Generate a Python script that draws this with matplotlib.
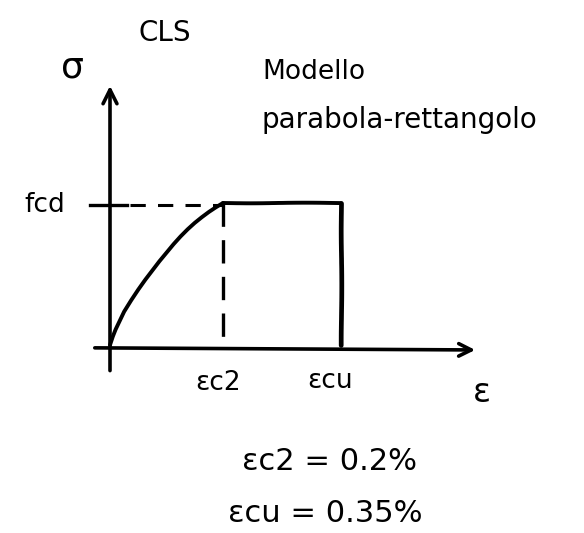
import numpy as np
import matplotlib
matplotlib.use("Agg")
import matplotlib.pyplot as plt

# Parabola-rectangle stress-strain model for concrete (CLS)
eps_c2 = 0.2      # strain at peak stress, %
eps_cu = 0.35     # ultimate strain, %
fcd = 1.0         # design strength (normalised)

# parabolic branch, read as points from 0 to eps_c2
eps_parab = [0.0, 0.005, 0.01, 0.025, 0.0375, 0.05, 0.0625, 0.075, 0.0875,
             0.10, 0.1125, 0.125, 0.1375, 0.15, 0.1625, 0.175, 0.1875, 0.20]
sig_parab = [0.0, 0.06, 0.11, 0.235, 0.315, 0.39, 0.46, 0.525, 0.59,
             0.65, 0.71, 0.765, 0.815, 0.86, 0.90, 0.937, 0.97, 1.00]

x_tick_labels = ["εc2", "εcu"]
eq_labels = ["εc2 = 0.2%", "εcu = 0.35%"]

W, H = 584, 533
fig = plt.figure(figsize=(W / 100, H / 100), dpi=100)
ax = fig.add_axes([0, 0, 1, 1])

# sketch-like strain axis: the two branches are drawn with their own spacing
knots_in = np.array([-1.0, 0.0, eps_c2, eps_cu, 2.0])
knots_out = np.array([-565.0, 0.0, 113.0, 231.0, 231.0 + 1.65 * 787.0])


def fwd(x):
    return np.interp(x, knots_in, knots_out)


def inv(y):
    return np.interp(y, knots_out, knots_in)


ax.set_xscale("function", functions=(fwd, inv))
ax.set_xlim(inv(-110.0), inv(W - 110.0))
ax.set_ylim(-(H - 345) / 142.0, 345 / 142.0)
ax.axis("off")

lw = 2.8


def sketch(lines, scale=0.3):
    for ln in lines:
        ln.set_sketch_params(scale=scale, length=120, randomness=2)
        ln.set_solid_capstyle("round")


# axes with arrows
ax.annotate("", xy=(0, 1.845), xytext=(0, -0.2),
            arrowprops=dict(arrowstyle="->,head_length=1.0,head_width=0.5",
                            lw=2.6, color="black"))
ax.annotate("", xy=(inv(368.0), -0.035), xytext=(inv(-18.0), -0.02),
            arrowprops=dict(arrowstyle="->,head_length=0.9,head_width=0.45",
                            lw=2.6, color="black"))

# model curve: parabola, plateau, vertical drop at eps_cu
parab, = ax.plot(eps_parab, sig_parab, color="black", lw=lw)
parab.set_solid_capstyle("round")
parab.set_solid_joinstyle("round")
sketch(ax.plot([eps_c2, eps_cu], [fcd, fcd], color="black", lw=lw))
sketch(ax.plot([eps_cu, eps_cu], [fcd, 0.0], color="black", lw=lw + 0.6))

# fcd tick and dashed guides
ax.plot([inv(-20.0), inv(17.0)], [fcd * 0.985, fcd * 0.985], color="black", lw=2.4)
ax.plot([inv(20.0), eps_c2], [fcd * 0.985, fcd * 0.985], color="black", lw=2.2,
        dashes=(5, 4))
ax.plot([eps_c2, eps_c2], [fcd, 0.05], color="black", lw=2.4, dashes=(7, 4))

# text
font = dict(family="DejaVu Sans", color="black")


def put(px, py, s, size, ha="center"):
    ax.text(px / W, 1 - py / H, s, transform=ax.transAxes, ha=ha, va="center",
            fontsize=size, **font)


put(165, 33, "CLS", 20)
put(72, 68, "σ", 26)
put(262, 72, "Modello", 19, ha="left")
put(262, 120, "parabola-rettangolo", 20, ha="left")
put(45, 205, "fcd", 19)
put(218, 383, x_tick_labels[0], 19)
put(330, 381, x_tick_labels[1], 19)
put(482, 392, "ε", 24)
put(330, 462, eq_labels[0], 22)
put(325, 514, eq_labels[1], 22)

fig.savefig("out.png", dpi=100, facecolor="white")
